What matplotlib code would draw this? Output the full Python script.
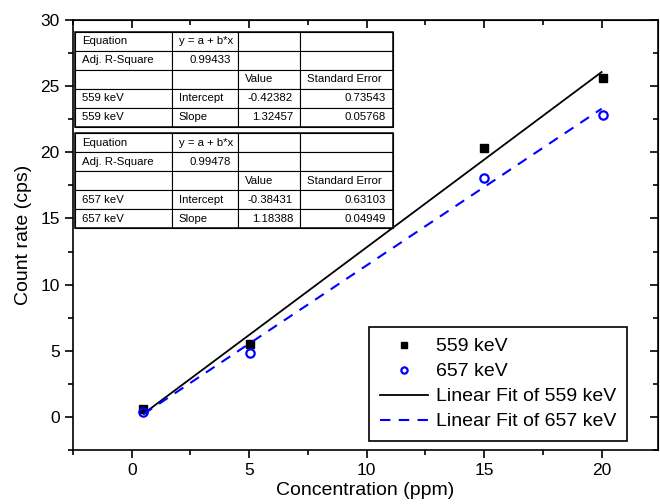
import matplotlib
matplotlib.use("Agg")
import matplotlib.pyplot as plt
from matplotlib.ticker import MultipleLocator
from matplotlib.patches import Rectangle

plt.rcParams["font.family"] = ["Liberation Sans", "DejaVu Sans"]

# données
conc_559 = [0.5, 5.05, 15.0, 20.05]
rate_559 = [0.6, 5.5, 20.3, 25.65]
conc_657 = [0.5, 5.05, 15.0, 20.05]
rate_657 = [0.4, 4.85, 18.05, 22.8]

# paramètres des ajustements (tableaux)
fit_x = [0.5, 20.0]
a_559, b_559 = -0.42382, 1.32457
a_657, b_657 = -0.38431, 1.18388

table_559 = [
    ["Equation", "y = a + b*x", "", ""],
    ["Adj. R-Square", "0.99433", "", ""],
    ["", "", "Value", "Standard Error"],
    ["559 keV", "Intercept", "-0.42382", "0.73543"],
    ["559 keV", "Slope", "1.32457", "0.05768"],
]
table_657 = [
    ["Equation", "y = a + b*x", "", ""],
    ["Adj. R-Square", "0.99478", "", ""],
    ["", "", "Value", "Standard Error"],
    ["657 keV", "Intercept", "-0.38431", "0.63103"],
    ["657 keV", "Slope", "1.18388", "0.04949"],
]

W, H = 660, 504
fig = plt.figure(figsize=(6.6, 5.04), dpi=100)
ax = fig.add_axes([73 / W, 1 - 450 / H, (658 - 73) / W, (450 - 20) / H])

ax.plot(conc_559, rate_559, "s", color="black", ms=6.3, ls="none", label="559 keV")
ax.plot(conc_657, rate_657, "o", mfc="none", mec="blue", mew=1.6, ms=6,
        ls="none", label="657 keV")
ax.plot(fit_x, [a_559 + b_559 * x for x in fit_x], color="black", lw=1.3,
        label="Linear Fit of 559 keV")
ax.plot(fit_x, [a_657 + b_657 * x for x in fit_x], color="blue", lw=1.5,
        ls=(0, (5, 4)), label="Linear Fit of 657 keV")

ax.set_xlim(-2.5, 22.4)
ax.set_ylim(-2.5, 30)
ax.xaxis.set_major_locator(MultipleLocator(5))
ax.xaxis.set_minor_locator(MultipleLocator(2.5))
ax.yaxis.set_major_locator(MultipleLocator(5))
ax.yaxis.set_minor_locator(MultipleLocator(2.5))
for s in ax.spines.values():
    s.set_linewidth(1.2)

ax.tick_params(which="both", direction="out", top=False, right=False,
               labelsize=12.5, width=1.2)
ax.tick_params(which="major", length=6)
ax.tick_params(which="minor", length=3.5)

# ticks intérieurs en haut et à droite
ax_t = ax.secondary_xaxis("top")
ax_t.xaxis.set_major_locator(MultipleLocator(5))
ax_t.xaxis.set_minor_locator(MultipleLocator(2.5))
ax_t.tick_params(which="both", direction="in", labeltop=False, width=1.2)
ax_t.tick_params(which="major", length=6)
ax_t.tick_params(which="minor", length=3.5)
ax_r = ax.secondary_yaxis("right")
ax_r.yaxis.set_major_locator(MultipleLocator(5))
ax_r.yaxis.set_minor_locator(MultipleLocator(2.5))
ax_r.tick_params(which="both", direction="in", labelright=False, width=1.2)
ax_r.tick_params(which="major", length=6)
ax_r.tick_params(which="minor", length=3.5)

ax.set_xlabel("Concentration (ppm)", fontsize=14, labelpad=3)
ax.set_ylabel("Count rate (cps)", fontsize=14, labelpad=6)

leg = ax.legend(loc="lower right", bbox_to_anchor=((627 - 73) / 585, (450 - 441) / 430),
                fontsize=14, frameon=True, fancybox=False, edgecolor="black",
                framealpha=1, borderpad=0.55, labelspacing=0.38, handlelength=2.5,
                handletextpad=0.4, markerscale=0.75, borderaxespad=0)
leg.get_frame().set_linewidth(1.2)

# tableaux de résultats
col_x = [75, 171.7, 238.3, 300, 393]
row_h = 19


def is_number(txt):
    try:
        float(txt)
        return True
    except ValueError:
        return False


def draw_table(rows, top):
    for i, row in enumerate(rows):
        y0 = top + i * row_h
        for j, txt in enumerate(row):
            x0, x1 = col_x[j], col_x[j + 1]
            fig.patches.append(Rectangle((x0 / W, 1 - (y0 + row_h) / H),
                                         (x1 - x0) / W, row_h / H,
                                         transform=fig.transFigure, fill=True,
                                         facecolor="white", edgecolor="black",
                                         lw=0.8, zorder=5))
            if not txt:
                continue
            if is_number(txt):
                fig.text((x1 - 7) / W, 1 - (y0 + row_h / 2) / H, txt, fontsize=8.2,
                         ha="right", va="center", zorder=6)
            else:
                fig.text((x0 + 7) / W, 1 - (y0 + row_h / 2) / H, txt, fontsize=8.2,
                         ha="left", va="center", zorder=6)
    fig.patches.append(Rectangle((col_x[0] / W, 1 - (top + 5 * row_h) / H),
                                 (col_x[-1] - col_x[0]) / W, 5 * row_h / H,
                                 transform=fig.transFigure, fill=False,
                                 edgecolor="black", lw=1.1, zorder=5))


draw_table(table_559, 31.7)
draw_table(table_657, 133.3)

fig.savefig("out.png", dpi=100)
